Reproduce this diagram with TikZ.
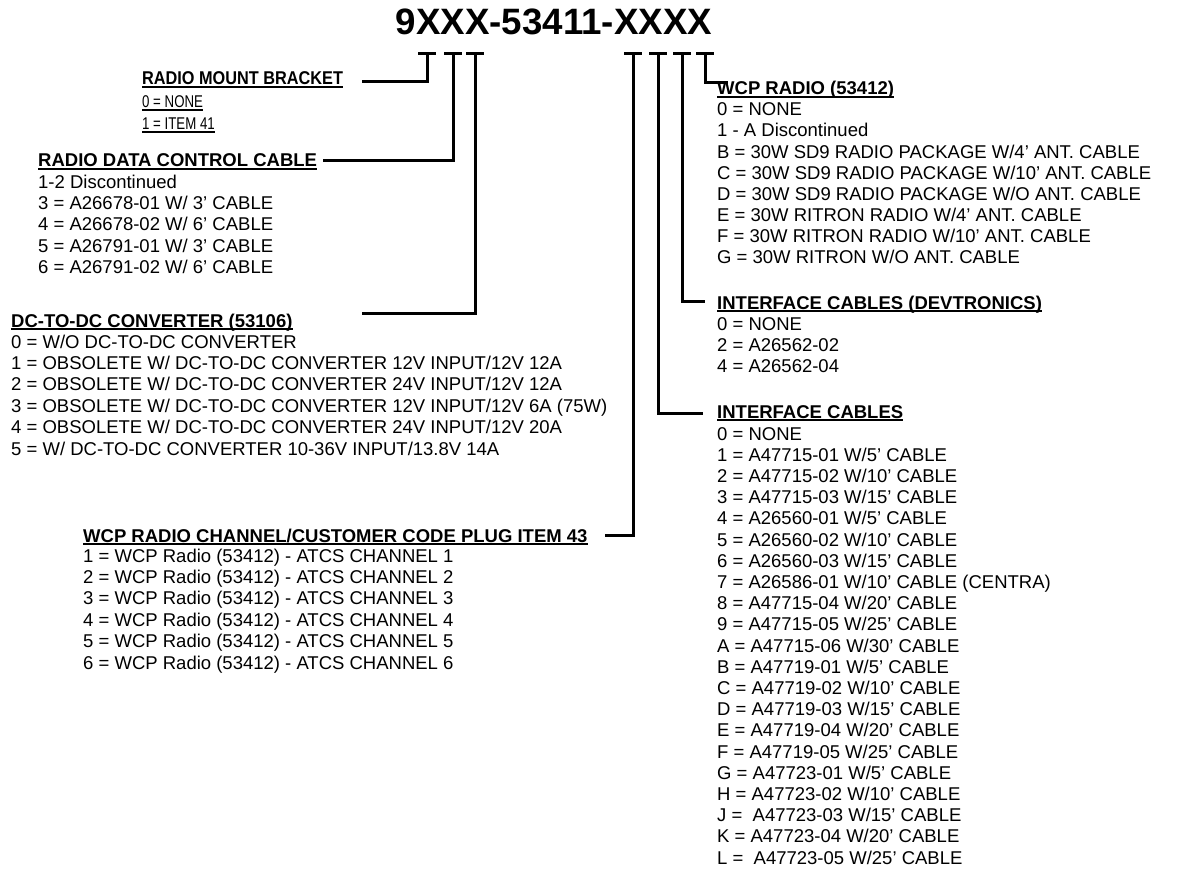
\documentclass[tikz,border=0pt]{standalone}
\usepackage{fontspec}
\setmainfont{Liberation Sans}
\newfontfamily\narrowfont[FakeStretch=0.88]{Liberation Sans}
\newfontfamily\narrowerfont[FakeStretch=0.78]{Liberation Sans}
\newcommand{\ulbox}[1]{\setbox0\hbox{#1}\rlap{\rule[-2.6pt]{\wd0}{1.5pt}}\box0}
\tikzset{
  head/.style={anchor=base west, inner sep=0, font=\fontsize{18.5}{21.3}\selectfont\bfseries},
  item/.style={anchor=base west, inner sep=0, font=\fontsize{18.5}{21.3}\selectfont},
  tickline/.style={line width=3, line join=miter}
}

\begin{document}
\begin{tikzpicture}[x=1pt, y=-1pt]
\useasboundingbox (0,0) rectangle (1183,872);

\node[anchor=base, inner sep=0, font=\fontsize{36.7}{40}\selectfont\bfseries] (title) at (554,35) {9XXX-53411-XXXX};

\node[head, font=\fontsize{18.5}{21.3}\narrowfont\bfseries] (mount) at (142,85) {\ulbox{RADIO MOUNT BRACKET}};
\node[item, font=\fontsize{17}{21}\narrowerfont] (mount1) at (142,108) {\ulbox{0 = NONE}};
\node[item, font=\fontsize{17}{21}\narrowerfont] (mount2) at (142,130) {\ulbox{1 = ITEM 41}};

\node[head] (data) at (38,167) {\ulbox{RADIO DATA CONTROL CABLE}};
\foreach \t [count=\i] in {1-2 Discontinued, 3 = A26678-01 W/ 3’ CABLE, 4 = A26678-02 W/ 6’ CABLE, 5 = A26791-01 W/ 3’ CABLE, 6 = A26791-02 W/ 6’ CABLE}
  \node[item] (data\i) at (38,{188+21.4*(\i-1)}) {\t};

\node[head] (dc) at (11,327) {\ulbox{DC-TO-DC CONVERTER (53106)}};
\foreach \t [count=\i] in {0 = W/O DC-TO-DC CONVERTER, 1 = OBSOLETE W/ DC-TO-DC CONVERTER 12V INPUT/12V 12A, 2 = OBSOLETE W/ DC-TO-DC CONVERTER 24V INPUT/12V 12A, 3 = OBSOLETE W/ DC-TO-DC CONVERTER 12V INPUT/12V 6A (75W), 4 = OBSOLETE W/ DC-TO-DC CONVERTER 24V INPUT/12V 20A, 5 = W/ DC-TO-DC CONVERTER 10-36V INPUT/13.8V 14A}
  \node[item] (dc\i) at (11,{348+21.4*(\i-1)}) {\t};

\node[head] (chan) at (83,542) {\ulbox{WCP RADIO CHANNEL/CUSTOMER CODE PLUG ITEM 43}};
\foreach \i in {1,...,6}
  \node[item] (chan\i) at (83,{562+21.4*(\i-1)}) {\i\ = WCP Radio (53412) - ATCS CHANNEL \i};

\node[head] (radio) at (717,95) {\ulbox{WCP RADIO (53412)}};
\foreach \t [count=\i] in {0 = NONE, 1 - A Discontinued, B = 30W SD9 RADIO PACKAGE W/4’ ANT. CABLE, C = 30W SD9 RADIO PACKAGE W/10’ ANT. CABLE, D = 30W SD9 RADIO PACKAGE W/O ANT. CABLE, E = 30W RITRON RADIO W/4’ ANT. CABLE, F = 30W RITRON RADIO W/10’ ANT. CABLE, G = 30W RITRON W/O ANT. CABLE}
  \node[item] (radio\i) at (717,{116+21*(\i-1)}) {\t};

\node[head] (devt) at (717,309) {\ulbox{INTERFACE CABLES (DEVTRONICS)}};
\foreach \t [count=\i] in {0 = NONE, 2 = A26562-02, 4 = A26562-04}
  \node[item] (devt\i) at (717,{330+21.3*(\i-1)}) {\t};

\node[head] (iface) at (717,418) {\ulbox{INTERFACE CABLES}};
\foreach \t [count=\i] in {0 = NONE, 1 = A47715-01 W/5’ CABLE, 2 = A47715-02 W/10’ CABLE, 3 = A47715-03 W/15’ CABLE, 4 = A26560-01 W/5’ CABLE, 5 = A26560-02 W/10’ CABLE, 6 = A26560-03 W/15’ CABLE, 7 = A26586-01 W/10’ CABLE (CENTRA), 8 = A47715-04 W/20’ CABLE, 9 = A47715-05 W/25’ CABLE, A = A47715-06 W/30’ CABLE, B = A47719-01 W/5’ CABLE, C = A47719-02 W/10’ CABLE, D = A47719-03 W/15’ CABLE, E = A47719-04 W/20’ CABLE, F = A47719-05 W/25’ CABLE, G = A47723-01 W/5’ CABLE, H = A47723-02 W/10’ CABLE, J =\ \ A47723-03 W/15’ CABLE, K = A47723-04 W/20’ CABLE, L =\ \ A47723-05 W/25’ CABLE}
  \node[item] (iface\i) at (717,{440+21.2*(\i-1)}) {\t};

\coordinate (tk1) at (427,54);
\coordinate (tk2) at (453,54);
\coordinate (tk3) at (475,54);
\coordinate (tk4) at (633,54);
\coordinate (tk5) at (658,54);
\coordinate (tk6) at (682,54);
\coordinate (tk7) at (705,54);

\coordinate (end1) at (362,82);
\coordinate (end2) at (323,160);
\coordinate (end3) at (362,313);
\coordinate (end4) at (605,535);
\coordinate (end5) at (703,413);
\coordinate (end6) at (705,301);
\coordinate (end7) at (728,83);

\foreach \k in {1,...,7}{
  \draw[tickline] ([xshift=-9]tk\k) -- ([xshift=9]tk\k);
  \draw[tickline] (tk\k) |- (end\k);
}
\end{tikzpicture}
\end{document}
